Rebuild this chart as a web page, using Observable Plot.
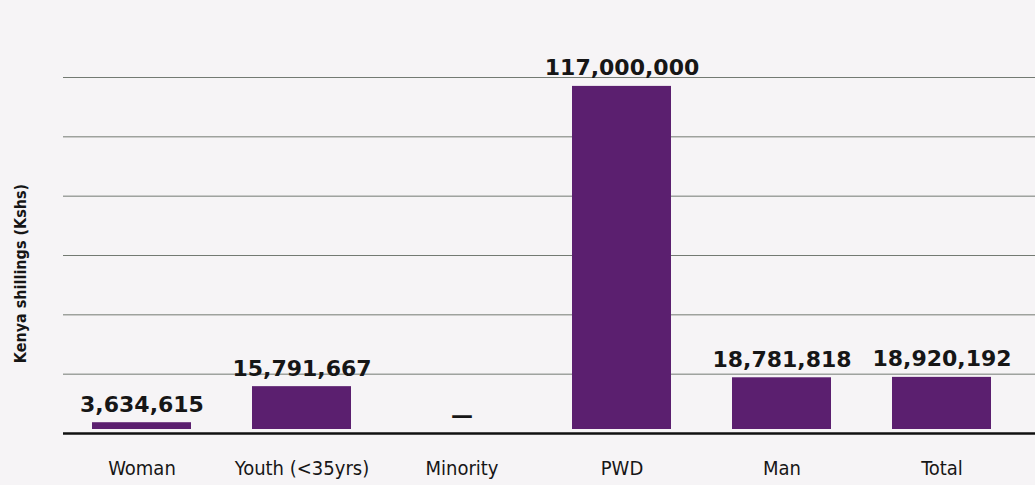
<!DOCTYPE html>
<html>
<head>
<meta charset="utf-8">
<script src="https://cdn.jsdelivr.net/npm/d3@7"></script>
<script src="https://cdn.jsdelivr.net/npm/@observablehq/plot@0.6"></script>
<style>
  html, body { margin: 0; padding: 0; background: #f6f4f6; }
  #chart svg { display: block; }
</style>
</head>
<body>
<div id="chart"></div>
<script>
const categories = ["Woman", "Youth (<35yrs)", "Minority", "PWD", "Man", "Total"];
const values = [3634615, 15791667, 0, 117000000, 18781818, 18920192];
const gridTicks = [20000000, 40000000, 60000000, 80000000, 100000000, 120000000];
const yLabel = "Kenya shillings (Kshs)";

const data = categories.map((c, i) => ({category: c, value: values[i]}));
const fmt = d3.format(",");
const labelOf = d => d.value > 0 ? fmt(d.value) : "\u2014";
const condensed = "'DejaVu Sans Condensed', 'Liberation Sans Narrow', 'DejaVu Sans'";

const chart = Plot.plot({
  width: 1035,
  height: 485,
  marginLeft: 63,
  marginRight: 0,
  marginTop: 77,
  marginBottom: 52,
  style: {background: "transparent", overflow: "visible"},
  x: {domain: categories, range: [59.5, 1024.5], paddingInner: 0.38, paddingOuter: 0.19, label: null},
  y: {domain: [0, 120000000], axis: null},
  marks: [
    Plot.ruleY(gridTicks, {stroke: "#737a72", strokeWidth: 1}),
    Plot.barY(data, {filter: d => d.value > 0, x: "category", y: "value", fill: "#5b1f6f", insetBottom: 4}),
    Plot.ruleY([0], {stroke: "#111111", strokeWidth: 2.5}),
    Plot.text(data, {
      x: "category", y: "value", text: labelOf, dy: -11, lineAnchor: "bottom",
      fontSize: 22, fontWeight: "bold", fontFamily: "DejaVu Sans", fill: "#161616"
    }),
    Plot.axisX({
      tickSize: 0, tickPadding: 27, fontSize: 20, fill: "#161616",
      fontFamily: condensed, fontStretch: "condensed", label: null
    }),
    Plot.text([yLabel], {
      frameAnchor: "left", rotate: -90, dx: -43, dy: 18, text: d => d, textAnchor: "middle",
      fontSize: 16, fontWeight: "bold", fill: "#161616", fontFamily: condensed
    })
  ]
});
document.getElementById("chart").appendChild(chart);
</script>
</body>
</html>
